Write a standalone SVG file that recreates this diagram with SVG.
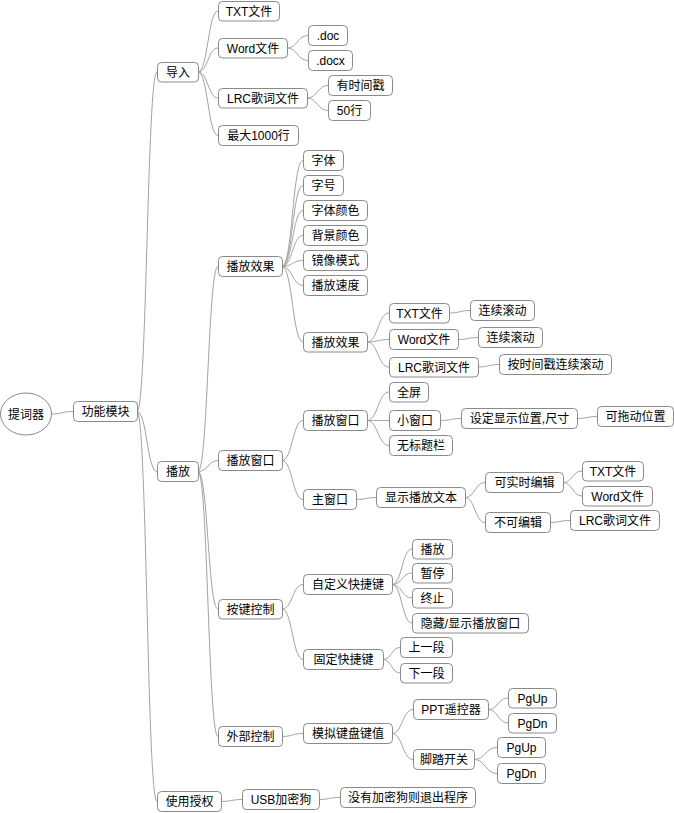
<svg xmlns="http://www.w3.org/2000/svg" width="674" height="813" viewBox="0 0 674 813">
<style>
.bg{fill:#fff}
.n rect,.n ellipse{fill:#fff;stroke:#8a8a8a;stroke-width:1}
.n text{font-family:"Liberation Sans","Noto Sans CJK SC",sans-serif;font-size:12px;fill:#000;text-anchor:middle}
#links path{fill:none;stroke:#a3a3a3;stroke-width:1}
</style>
<rect class="bg" x="0" y="0" width="674" height="813"/>
<g id="links">
<path d="M51,414 C62,414 62,411.5 73,411.5"/>
<path d="M137,411.5 C147,411.5 147,72 157,72"/>
<path d="M137,411.5 C147,411.5 147,471.5 157,471.5"/>
<path d="M137,411.5 C147,411.5 147,801.5 157,801.5"/>
<path d="M198,72 C208,72 208,11 218,11"/>
<path d="M198,72 C208,72 208,48 218,48"/>
<path d="M198,72 C208,72 208,98 218,98"/>
<path d="M198,72 C208,72 208,135.5 218,135.5"/>
<path d="M287,48 C297.5,48 297.5,35.5 308,35.5"/>
<path d="M287,48 C297.5,48 297.5,60.5 308,60.5"/>
<path d="M307,98 C317.5,98 317.5,85.5 328,85.5"/>
<path d="M307,98 C317.5,98 317.5,110.5 328,110.5"/>
<path d="M198,471.5 C208,471.5 208,266.5 218,266.5"/>
<path d="M198,471.5 C208,471.5 208,460.5 218,460.5"/>
<path d="M198,471.5 C208,471.5 208,609 218,609"/>
<path d="M198,471.5 C208,471.5 208,736.5 218,736.5"/>
<path d="M282,266.5 C292.5,266.5 292.5,160.5 303,160.5"/>
<path d="M282,266.5 C292.5,266.5 292.5,185.5 303,185.5"/>
<path d="M282,266.5 C292.5,266.5 292.5,210.5 303,210.5"/>
<path d="M282,266.5 C292.5,266.5 292.5,235.5 303,235.5"/>
<path d="M282,266.5 C292.5,266.5 292.5,260.5 303,260.5"/>
<path d="M282,266.5 C292.5,266.5 292.5,285.5 303,285.5"/>
<path d="M282,266.5 C292.5,266.5 292.5,342 303,342"/>
<path d="M367,342 C378,342 378,313 389,313"/>
<path d="M367,342 C378,342 378,339.5 389,339.5"/>
<path d="M367,342 C378,342 378,367 389,367"/>
<path d="M449,313 C459.5,313 459.5,310.5 470,310.5"/>
<path d="M458,339.5 C468,339.5 468,337.5 478,337.5"/>
<path d="M478,367 C488.5,367 488.5,364.5 499,364.5"/>
<path d="M282,460.5 C292.5,460.5 292.5,420.5 303,420.5"/>
<path d="M282,460.5 C292.5,460.5 292.5,499.5 303,499.5"/>
<path d="M367,420.5 C378,420.5 378,392 389,392"/>
<path d="M367,420.5 C378,420.5 378,420.5 389,420.5"/>
<path d="M367,420.5 C378,420.5 378,445.5 389,445.5"/>
<path d="M440,420.5 C450.5,420.5 450.5,418.5 461,418.5"/>
<path d="M577,418.5 C587,418.5 587,416.5 597,416.5"/>
<path d="M356,499.5 C366,499.5 366,497.5 376,497.5"/>
<path d="M465,497.5 C475,497.5 475,482.5 485,482.5"/>
<path d="M465,497.5 C475,497.5 475,522.5 485,522.5"/>
<path d="M563,482.5 C572.5,482.5 572.5,471 582,471"/>
<path d="M563,482.5 C572.5,482.5 572.5,496 582,496"/>
<path d="M550,522.5 C560,522.5 560,520.5 570,520.5"/>
<path d="M282,609 C292.5,609 292.5,584.5 303,584.5"/>
<path d="M282,609 C292.5,609 292.5,659.5 303,659.5"/>
<path d="M392,584.5 C402,584.5 402,549 412,549"/>
<path d="M392,584.5 C402,584.5 402,573 412,573"/>
<path d="M392,584.5 C402,584.5 402,598 412,598"/>
<path d="M392,584.5 C402,584.5 402,623 412,623"/>
<path d="M383,659.5 C391.5,659.5 391.5,647.5 400,647.5"/>
<path d="M383,659.5 C391.5,659.5 391.5,673 400,673"/>
<path d="M282,736.5 C292.5,736.5 292.5,733.5 303,733.5"/>
<path d="M392,733.5 C402.5,733.5 402.5,709.5 413,709.5"/>
<path d="M392,733.5 C402.5,733.5 402.5,759.5 413,759.5"/>
<path d="M488,709.5 C498,709.5 498,698 508,698"/>
<path d="M488,709.5 C498,709.5 498,723 508,723"/>
<path d="M474,759.5 C485.5,759.5 485.5,747.5 497,747.5"/>
<path d="M474,759.5 C485.5,759.5 485.5,773.5 497,773.5"/>
<path d="M221,801.5 C231.5,801.5 231.5,799.5 242,799.5"/>
<path d="M319,799.5 C329.5,799.5 329.5,797.5 340,797.5"/>
</g>
<g id="root" class="n"><ellipse cx="26" cy="414" rx="25.5" ry="21"/><text x="26" y="418.5">提词器</text></g>
<g id="n1" class="n"><rect x="73.5" y="401.5" width="64" height="20" rx="4"/><text x="105.5" y="416">功能模块</text></g>
<g id="n2" class="n"><rect x="157.5" y="62.5" width="41" height="19.5" rx="4"/><text x="178" y="76.5">导入</text></g>
<g id="n3" class="n"><rect x="218.5" y="1.5" width="61" height="19.5" rx="4"/><text x="249" y="15.5">TXT文件</text></g>
<g id="n4" class="n"><rect x="218.5" y="38.5" width="69" height="19.5" rx="4"/><text x="253" y="52.5">Word文件</text></g>
<g id="n5" class="n"><rect x="308.5" y="25.5" width="39" height="20" rx="4"/><text x="328" y="40">.doc</text></g>
<g id="n6" class="n"><rect x="308.5" y="50.5" width="44" height="20" rx="4"/><text x="330.5" y="65">.docx</text></g>
<g id="n7" class="n"><rect x="218.5" y="88.5" width="89" height="19.5" rx="4"/><text x="263" y="102.5">LRC歌词文件</text></g>
<g id="n8" class="n"><rect x="328.5" y="75.5" width="64" height="20" rx="4"/><text x="360.5" y="90">有时间戳</text></g>
<g id="n9" class="n"><rect x="328.5" y="100.5" width="42" height="20" rx="4"/><text x="349.5" y="115">50行</text></g>
<g id="n10" class="n"><rect x="218.5" y="125.5" width="80" height="20" rx="4"/><text x="258.5" y="140">最大1000行</text></g>
<g id="n11" class="n"><rect x="157.5" y="461.5" width="41" height="20" rx="4"/><text x="178" y="476">播放</text></g>
<g id="n12" class="n"><rect x="218.5" y="256.5" width="64" height="20" rx="4"/><text x="250.5" y="271">播放效果</text></g>
<g id="n13" class="n"><rect x="303.5" y="150.5" width="40" height="20" rx="4"/><text x="323.5" y="165">字体</text></g>
<g id="n14" class="n"><rect x="303.5" y="175.5" width="40" height="20" rx="4"/><text x="323.5" y="190">字号</text></g>
<g id="n15" class="n"><rect x="303.5" y="200.5" width="64" height="20" rx="4"/><text x="335.5" y="215">字体颜色</text></g>
<g id="n16" class="n"><rect x="303.5" y="225.5" width="64" height="20" rx="4"/><text x="335.5" y="240">背景颜色</text></g>
<g id="n17" class="n"><rect x="303.5" y="250.5" width="64" height="20" rx="4"/><text x="335.5" y="265">镜像模式</text></g>
<g id="n18" class="n"><rect x="303.5" y="275.5" width="64" height="20" rx="4"/><text x="335.5" y="290">播放速度</text></g>
<g id="n19" class="n"><rect x="303.5" y="332.5" width="64" height="19.5" rx="4"/><text x="335.5" y="346.5">播放效果</text></g>
<g id="n20" class="n"><rect x="389.5" y="303.5" width="60" height="19.5" rx="4"/><text x="419.5" y="317.5">TXT文件</text></g>
<g id="n21" class="n"><rect x="470.5" y="300.5" width="64" height="20" rx="4"/><text x="502.5" y="315">连续滚动</text></g>
<g id="n22" class="n"><rect x="389.5" y="329.5" width="69" height="20" rx="4"/><text x="424" y="344">Word文件</text></g>
<g id="n23" class="n"><rect x="478.5" y="327.5" width="64" height="20" rx="4"/><text x="510.5" y="342">连续滚动</text></g>
<g id="n24" class="n"><rect x="389.5" y="357.5" width="89" height="19.5" rx="4"/><text x="434" y="371.5">LRC歌词文件</text></g>
<g id="n25" class="n"><rect x="499.5" y="354.5" width="112" height="20" rx="4"/><text x="555.5" y="369">按时间戳连续滚动</text></g>
<g id="n26" class="n"><rect x="218.5" y="450.5" width="64" height="20" rx="4"/><text x="250.5" y="465">播放窗口</text></g>
<g id="n27" class="n"><rect x="303.5" y="410.5" width="64" height="20" rx="4"/><text x="335.5" y="425">播放窗口</text></g>
<g id="n28" class="n"><rect x="389.5" y="382.5" width="39" height="19.5" rx="4"/><text x="409" y="396.5">全屏</text></g>
<g id="n29" class="n"><rect x="389.5" y="410.5" width="51" height="20" rx="4"/><text x="415" y="425">小窗口</text></g>
<g id="n30" class="n"><rect x="461.5" y="408.5" width="116" height="20" rx="4"/><text x="519.5" y="423">设定显示位置,尺寸</text></g>
<g id="n31" class="n"><rect x="597.5" y="406.5" width="76" height="20" rx="4"/><text x="635.5" y="421">可拖动位置</text></g>
<g id="n32" class="n"><rect x="389.5" y="435.5" width="63" height="20" rx="4"/><text x="421" y="450">无标题栏</text></g>
<g id="n33" class="n"><rect x="303.5" y="489.5" width="53" height="20" rx="4"/><text x="330" y="504">主窗口</text></g>
<g id="n34" class="n"><rect x="376.5" y="487.5" width="89" height="20" rx="4"/><text x="421" y="502">显示播放文本</text></g>
<g id="n35" class="n"><rect x="485.5" y="472.5" width="78" height="20" rx="4"/><text x="524.5" y="487">可实时编辑</text></g>
<g id="n36" class="n"><rect x="582.5" y="461.5" width="61" height="19.5" rx="4"/><text x="613" y="475.5">TXT文件</text></g>
<g id="n37" class="n"><rect x="582.5" y="486.5" width="70" height="19.5" rx="4"/><text x="617.5" y="500.5">Word文件</text></g>
<g id="n38" class="n"><rect x="485.5" y="512.5" width="65" height="20" rx="4"/><text x="518" y="527">不可编辑</text></g>
<g id="n39" class="n"><rect x="570.5" y="510.5" width="89" height="20" rx="4"/><text x="615" y="525">LRC歌词文件</text></g>
<g id="n40" class="n"><rect x="218.5" y="599.5" width="64" height="19.5" rx="4"/><text x="250.5" y="613.5">按键控制</text></g>
<g id="n41" class="n"><rect x="303.5" y="574.5" width="89" height="20" rx="4"/><text x="348" y="589">自定义快捷键</text></g>
<g id="n42" class="n"><rect x="412.5" y="539.5" width="40" height="19.5" rx="4"/><text x="432.5" y="553.5">播放</text></g>
<g id="n43" class="n"><rect x="412.5" y="563.5" width="40" height="19.5" rx="4"/><text x="432.5" y="577.5">暂停</text></g>
<g id="n44" class="n"><rect x="412.5" y="588.5" width="40" height="19.5" rx="4"/><text x="432.5" y="602.5">终止</text></g>
<g id="n45" class="n"><rect x="412.5" y="613.5" width="116" height="19.5" rx="4"/><text x="470.5" y="627.5">隐藏/显示播放窗口</text></g>
<g id="n46" class="n"><rect x="303.5" y="649.5" width="80" height="20" rx="4"/><text x="343.5" y="664">固定快捷键</text></g>
<g id="n47" class="n"><rect x="400.5" y="637.5" width="52" height="20" rx="4"/><text x="426.5" y="652">上一段</text></g>
<g id="n48" class="n"><rect x="400.5" y="663.5" width="52" height="19.5" rx="4"/><text x="426.5" y="677.5">下一段</text></g>
<g id="n49" class="n"><rect x="218.5" y="726.5" width="64" height="20" rx="4"/><text x="250.5" y="741">外部控制</text></g>
<g id="n50" class="n"><rect x="303.5" y="723.5" width="89" height="20" rx="4"/><text x="348" y="738">模拟键盘键值</text></g>
<g id="n51" class="n"><rect x="413.5" y="699.5" width="75" height="20" rx="4"/><text x="451" y="714">PPT遥控器</text></g>
<g id="n52" class="n"><rect x="508.5" y="688.5" width="48" height="19.5" rx="4"/><text x="532.5" y="702.5">PgUp</text></g>
<g id="n53" class="n"><rect x="508.5" y="713.5" width="48" height="19.5" rx="4"/><text x="532.5" y="727.5">PgDn</text></g>
<g id="n54" class="n"><rect x="413.5" y="749.5" width="61" height="20" rx="4"/><text x="444" y="764">脚踏开关</text></g>
<g id="n55" class="n"><rect x="497.5" y="737.5" width="48" height="20" rx="4"/><text x="521.5" y="752">PgUp</text></g>
<g id="n56" class="n"><rect x="497.5" y="763.5" width="48" height="20" rx="4"/><text x="521.5" y="778">PgDn</text></g>
<g id="n57" class="n"><rect x="157.5" y="791.5" width="64" height="20" rx="4"/><text x="189.5" y="806">使用授权</text></g>
<g id="n58" class="n"><rect x="242.5" y="789.5" width="77" height="20" rx="4"/><text x="281" y="804">USB加密狗</text></g>
<g id="n59" class="n"><rect x="340.5" y="787.5" width="135" height="20" rx="4"/><text x="408" y="802">没有加密狗则退出程序</text></g>
</svg>
